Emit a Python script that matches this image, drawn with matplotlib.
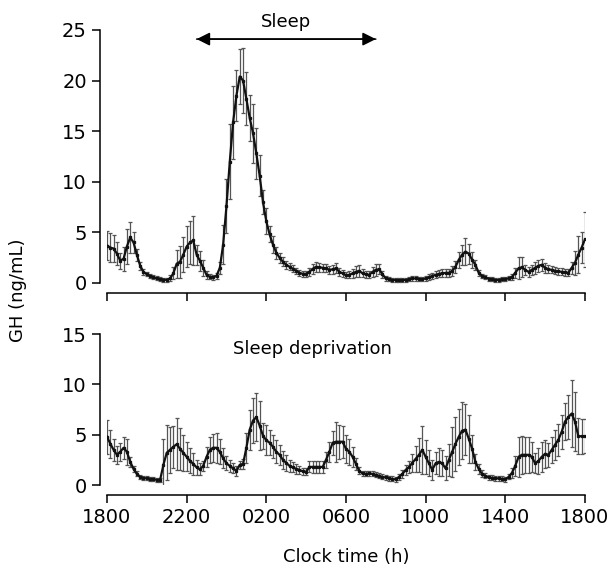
"""Plot 24 h growth hormone profiles: normal sleep vs sleep deprivation."""

import matplotlib

matplotlib.use("Agg")
import matplotlib.pyplot as plt
import numpy as np


# ── data ──────────────────────────────────────────────────────────────────

# samples every 10 min, hours after 1800
HOURS = np.linspace(0, 24, 145)
TICK_HOURS = [0, 4, 8, 12, 16, 20, 24]
TICK_LABELS = ["1800", "2200", "0200", "0600", "1000", "1400", "1800"]

SLEEP_GH = [
    3.7, 3.5, 3.4, 2.9, 2.2, 2.4, 3.6, 4.5, 4.0, 2.8,
    1.7, 1.1, 0.85, 0.7, 0.55, 0.45, 0.38, 0.33, 0.3, 0.45,
    0.95, 1.9, 2.1, 2.8, 3.6, 4.0, 4.2, 2.8, 2.2, 1.5,
    0.8, 0.6, 0.55, 0.7, 1.5, 3.8, 7.6, 12.0, 15.9, 18.5,
    20.4, 20.0, 18.2, 16.3, 14.8, 12.8, 10.6, 8.0, 6.1, 4.8,
    3.8, 3.0, 2.5, 2.1, 1.8, 1.6, 1.4, 1.2, 1.0, 0.9,
    0.9, 1.1, 1.4, 1.6, 1.55, 1.5, 1.45, 1.3, 1.35, 1.45,
    1.1, 0.95, 0.75, 0.8, 0.95, 1.1, 1.2, 0.95, 0.85, 0.8,
    1.1, 1.3, 1.35, 0.85, 0.45, 0.35, 0.3, 0.3, 0.28, 0.3,
    0.3, 0.35, 0.45, 0.45, 0.4, 0.36, 0.45, 0.55, 0.7, 0.8,
    0.9, 0.95, 1.0, 1.0, 1.2, 1.6, 2.3, 2.8, 3.1, 2.9,
    2.3, 1.8, 1.0, 0.7, 0.55, 0.43, 0.35, 0.3, 0.3, 0.35,
    0.4, 0.45, 0.6, 1.0, 1.45, 1.55, 1.3, 1.1, 1.3, 1.5,
    1.7, 1.8, 1.5, 1.35, 1.3, 1.2, 1.15, 1.1, 1.05, 1.0,
    1.5, 2.0, 2.8, 3.5, 4.3,
]
SLEEP_SEM = [
    1.4, 1.4, 1.35, 1.1, 0.8, 1.2, 1.7, 1.5, 1.0, 0.6,
    0.4, 0.3, 0.2, 0.2, 0.2, 0.2, 0.2, 0.2, 0.2, 0.3,
    0.6, 1.4, 1.6, 1.7, 2.0, 2.1, 2.4, 1.0, 1.0, 0.8,
    0.4, 0.25, 0.25, 0.3, 0.6, 1.9, 2.7, 3.7, 3.6, 2.5,
    2.7, 3.2, 2.6, 2.3, 2.9, 2.5, 2.0, 1.2, 1.3, 0.8,
    0.8, 0.6, 0.5, 0.45, 0.4, 0.35, 0.35, 0.3, 0.3, 0.3,
    0.3, 0.4, 0.5, 0.5, 0.45, 0.4, 0.4, 0.4, 0.45, 0.5,
    0.4, 0.35, 0.3, 0.35, 0.45, 0.55, 0.6, 0.4, 0.35, 0.35,
    0.5, 0.6, 0.5, 0.35, 0.25, 0.2, 0.2, 0.2, 0.2, 0.2,
    0.2, 0.2, 0.25, 0.25, 0.2, 0.2, 0.25, 0.3, 0.3, 0.35,
    0.35, 0.4, 0.4, 0.4, 0.5, 0.6, 0.8, 1.0, 1.3, 1.0,
    0.8, 0.5, 0.3, 0.2, 0.2, 0.2, 0.2, 0.2, 0.2, 0.2,
    0.2, 0.2, 0.3, 0.5, 1.1, 1.0, 0.5, 0.5, 0.5, 0.6,
    0.6, 0.6, 0.5, 0.4, 0.35, 0.35, 0.35, 0.35, 0.35, 0.35,
    0.6, 1.2, 1.8, 1.5, 2.7,
]

DEPRIV_GH = [
    4.8, 4.1, 3.5, 3.0, 3.3, 3.7, 3.3, 2.3, 1.6, 1.1,
    0.8, 0.7, 0.65, 0.6, 0.56, 0.52, 0.5, 2.0, 3.2, 3.5,
    3.8, 4.05, 3.6, 3.2, 2.8, 2.4, 2.1, 1.75, 1.55, 1.9,
    2.8, 3.5, 3.7, 3.7, 3.3, 2.65, 2.15, 1.9, 1.65, 1.4,
    2.0, 2.1, 3.7, 5.5, 6.4, 6.75, 5.9, 4.9, 4.45, 4.2,
    3.8, 3.3, 3.0, 2.5, 2.2, 1.9, 1.75, 1.6, 1.5, 1.35,
    1.3, 1.8, 1.8, 1.8, 1.8, 1.8, 2.5, 3.3, 4.2, 4.3,
    4.3, 4.3, 3.6, 3.3, 2.8, 2.1, 1.4, 1.15, 1.1, 1.15,
    1.1, 1.0, 0.9, 0.8, 0.75, 0.66, 0.6, 0.56, 0.8, 1.1,
    1.5, 1.8, 2.2, 2.6, 3.0, 3.5, 2.8, 2.15, 1.5, 2.15,
    2.3, 2.15, 1.65, 2.5, 3.3, 4.1, 4.8, 5.4, 5.5, 4.6,
    3.6, 2.3, 1.6, 1.1, 0.9, 0.76, 0.7, 0.66, 0.66, 0.6,
    0.56, 0.8, 1.2, 1.9, 2.8, 3.0, 3.0, 3.0, 2.8, 2.15,
    2.4, 2.8, 3.1, 3.0, 3.5, 4.0, 4.5, 5.3, 6.3, 6.75,
    7.1, 6.3, 4.85, 4.85, 4.85,
]
DEPRIV_SEM = [
    1.7, 1.4, 1.1, 0.9, 0.9, 1.1, 1.3, 0.5, 0.3, 0.25,
    0.2, 0.2, 0.2, 0.2, 0.2, 0.2, 0.2, 2.6, 2.75, 2.3,
    2.1, 2.6, 2.1, 1.8, 1.45, 1.25, 1.1, 0.75, 0.6, 0.5,
    1.0, 1.3, 1.4, 1.5, 1.25, 1.0, 0.7, 0.6, 0.5, 0.5,
    0.4, 0.5, 1.5, 2.0, 2.2, 2.4, 2.4, 1.3, 1.5, 1.25,
    1.15, 1.15, 1.0, 0.9, 0.8, 0.6, 0.5, 0.5, 0.4, 0.35,
    0.35, 0.55, 0.6, 0.6, 0.6, 0.6, 0.8, 1.0, 1.2, 2.0,
    1.7, 1.6, 1.4, 1.3, 1.0, 0.6, 0.35, 0.25, 0.25, 0.25,
    0.25, 0.25, 0.25, 0.25, 0.25, 0.25, 0.25, 0.25, 0.3, 0.4,
    0.5, 0.6, 0.9, 1.3, 1.7, 2.4, 1.7, 1.3, 1.0, 1.1,
    1.4, 1.3, 1.2, 1.6, 2.5, 2.7, 2.8, 2.8, 2.5, 2.4,
    1.4, 0.8, 0.5, 0.35, 0.25, 0.25, 0.25, 0.25, 0.25, 0.25,
    0.25, 0.25, 0.5, 1.0, 2.0, 1.9, 1.8, 1.8, 1.5, 1.0,
    1.3, 1.5, 1.4, 1.2, 1.3, 1.5, 1.6, 1.7, 1.8, 2.2,
    3.3, 2.9, 1.8, 1.75, 1.7,
]

SLEEP_START, SLEEP_END = 4.5, 13.5


# ── style ─────────────────────────────────────────────────────────────────

FONT_SIZE = 13
TICK_SIZE = 14
LINE_COLOR = "#111111"
ERR_COLOR = "#555555"


def draw_profile(ax, values, sem, ymax, yticks):
    ax.errorbar(
        HOURS, values, yerr=sem, color=LINE_COLOR, linewidth=1.6,
        ecolor=ERR_COLOR, elinewidth=0.9, capsize=1.6, capthick=0.9,
        marker="s", markersize=1.4, zorder=3,
    )
    ax.set_xlim(0, 24)
    ax.set_ylim(0, ymax)
    ax.set_yticks(yticks)
    ax.set_xticks(TICK_HOURS)
    for side in ["top", "right"]:
        ax.spines[side].set_visible(False)
    ax.spines["left"].set_position(("outward", 5))
    ax.spines["bottom"].set_position(("outward", 7))
    for side in ["left", "bottom"]:
        ax.spines[side].set_linewidth(1.1)
    ax.tick_params(direction="out", length=6, width=1.1, labelsize=TICK_SIZE)


# ── plotting ──────────────────────────────────────────────────────────────

def main():
    fig = plt.figure(figsize=(6.12, 5.68), dpi=100)
    ax_top = fig.add_axes([0.1748, 0.5018, 0.781, 0.4454])
    ax_bot = fig.add_axes([0.1748, 0.1461, 0.781, 0.2658])

    draw_profile(ax_top, SLEEP_GH, SLEEP_SEM, 25, [0, 5, 10, 15, 20, 25])
    ax_top.set_xticklabels([])

    draw_profile(ax_bot, DEPRIV_GH, DEPRIV_SEM, 15, [0, 5, 10, 15])
    ax_bot.set_xticklabels(TICK_LABELS)

    # sleep period arrow
    ax_top.annotate(
        "", xy=(SLEEP_START, 24.1), xytext=(SLEEP_END, 24.1),
        arrowprops=dict(arrowstyle="-|>", color="black", lw=1.1,
                        mutation_scale=20, shrinkA=0, shrinkB=0),
        annotation_clip=False,
    )
    ax_top.annotate(
        "", xy=(SLEEP_END, 24.1), xytext=(SLEEP_START, 24.1),
        arrowprops=dict(arrowstyle="-|>", color="black", lw=1.1,
                        mutation_scale=20, shrinkA=0, shrinkB=0),
        annotation_clip=False,
    )
    ax_top.text((SLEEP_START + SLEEP_END) / 2, 24.9, "Sleep", ha="center",
                va="bottom", fontsize=FONT_SIZE, clip_on=False)

    ax_bot.text(10.3, 13.5, "Sleep deprivation", ha="center", va="center",
                fontsize=FONT_SIZE)

    fig.text(18 / 612, 1 - 290 / 568, "GH (ng/mL)", rotation=90,
             ha="center", va="center", fontsize=FONT_SIZE)
    fig.text(346 / 612, 1 - 557 / 568, "Clock time (h)", ha="center",
             va="center", fontsize=FONT_SIZE)

    fig.savefig("out.png", dpi=100)
    plt.close(fig)


if __name__ == "__main__":
    main()
